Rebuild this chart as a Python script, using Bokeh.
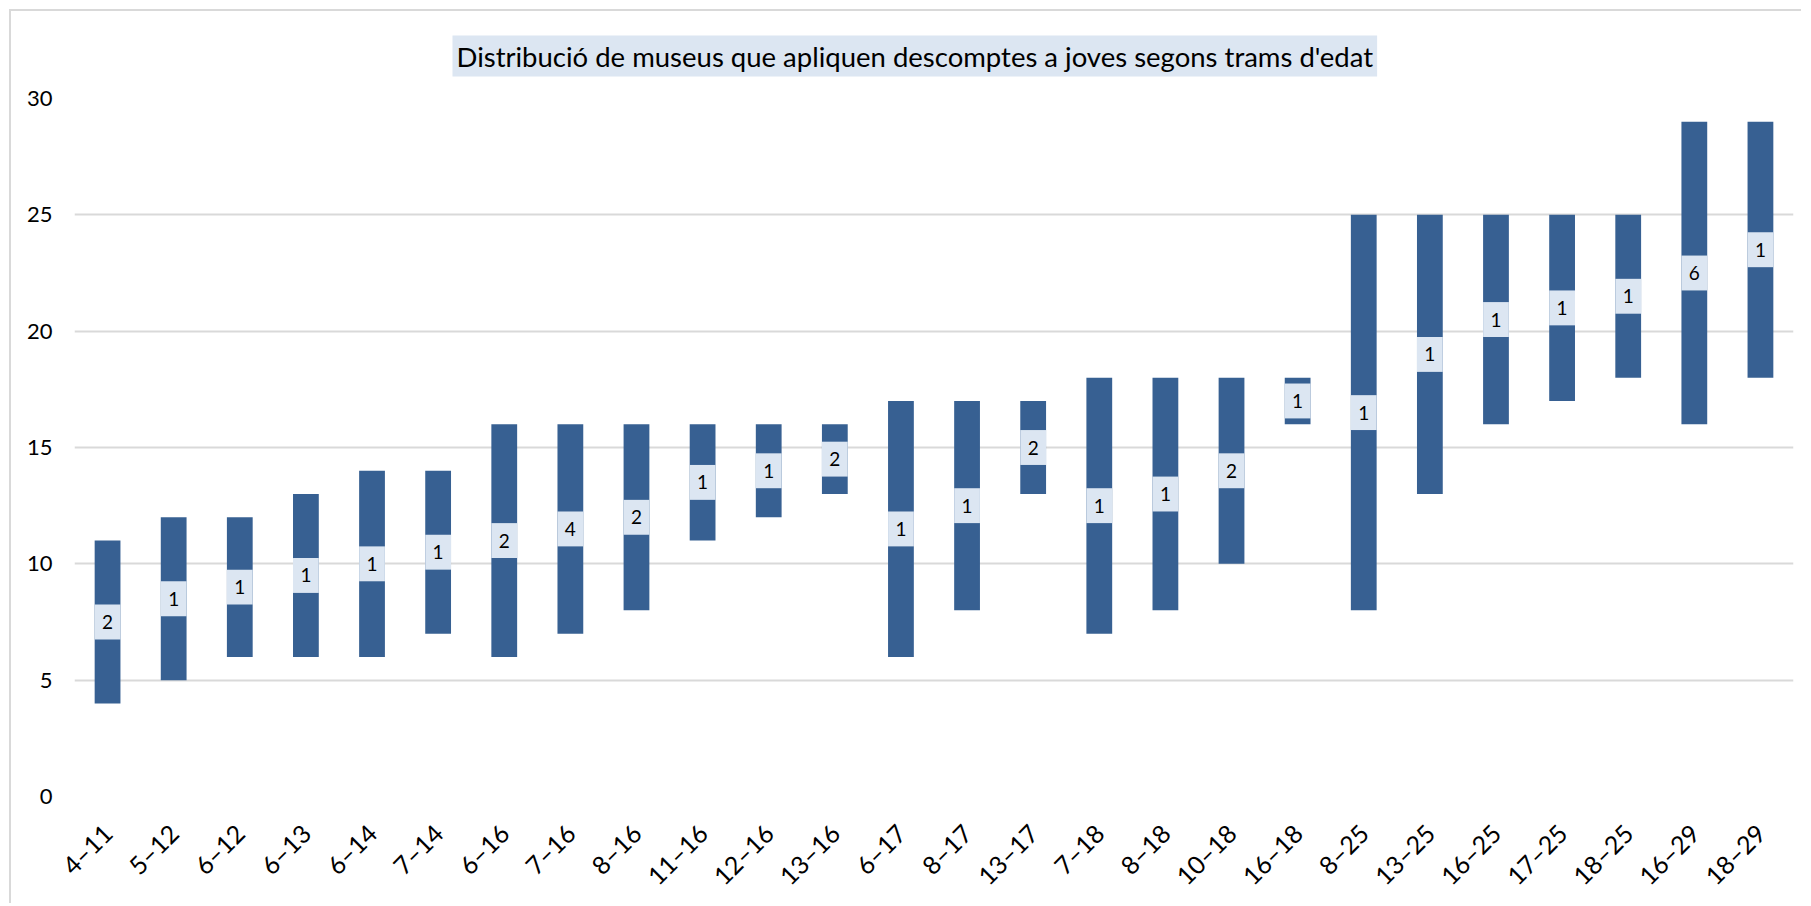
from bokeh.plotting import figure
from bokeh.models import FactorRange, Range1d, ColumnDataSource, FixedTicker
from bokeh.embed import file_html
from bokeh.resources import INLINE
from bokeh.core.properties import value
import math

# ---- data ----
categories = ["4–11", "5–12", "6–12", "6–13", "6–14", "7–14", "6–16", "7–16", "8–16",
              "11–16", "12–16", "13–16", "6–17", "8–17", "13–17", "7–18", "8–18", "10–18",
              "16–18", "8–25", "13–25", "16–25", "17–25", "18–25", "16–29", "18–29"]
age_min = [4, 5, 6, 6, 6, 7, 6, 7, 8, 11, 12, 13, 6, 8, 13, 7, 8, 10, 16, 8, 13, 16, 17, 18, 16, 18]
age_max = [11, 12, 12, 13, 14, 14, 16, 16, 16, 16, 16, 16, 17, 17, 17, 18, 18, 18, 18, 25, 25, 25, 25, 25, 29, 29]
museums = [2, 1, 1, 1, 1, 1, 2, 4, 2, 1, 1, 2, 1, 1, 2, 1, 1, 2, 1, 1, 1, 1, 1, 1, 6, 1]
y_ticks = [0, 5, 10, 15, 20, 25, 30]

title_text = "Distribució de museus que apliquen descomptes a joves segons trams d'edat"

BAR = "#376092"
LABEL_BG = "#DCE6F2"
GRID = "#D9D9D9"
FONT = "Lato"

mid = [(a + b) / 2 for a, b in zip(age_min, age_max)]
src = ColumnDataSource(dict(cat=categories, lo=age_min, hi=age_max, mid=mid,
                            n=[str(v) for v in museums]))

p = figure(width=1792, height=894, output_backend="svg", toolbar_location=None,
           x_range=FactorRange(factors=categories, range_padding=0),
           y_range=Range1d(0, 30))
p.min_border_left = 63
p.min_border_right = 10
p.min_border_top = 87
p.min_border_bottom = 109
p.outline_line_color = None
p.background_fill_color = "white"
p.border_fill_color = "white"
p.styles = {"margin-left": "9px", "margin-top": "9px",
            "border-left": "2px solid #D9D9D9", "border-top": "2px solid #D9D9D9"}

p.vbar(x="cat", bottom="lo", top="hi", width=0.39, source=src,
       fill_color=BAR, line_color=None)
p.rect(x="cat", y="mid", width=0.39, height=1.5, source=src,
       fill_color=LABEL_BG, line_color=None)
p.text(x="cat", y="mid", text="n", source=src, text_align="center",
       text_baseline="middle", text_font=value(FONT), text_font_size="19px",
       text_color="#000000")

# title
p.title.text = title_text
p.title.align = "left"
p.title.vertical_align = "bottom"
p.title.offset = 378
p.title.text_font = FONT
p.title.text_font_size = "27.5px"
p.title.text_font_style = "normal"
p.title.text_color = "#000000"
p.title.background_fill_color = LABEL_BG
p.title.padding = 4
p.title.standoff = 44

# axes
p.yaxis.ticker = FixedTicker(ticks=y_ticks)
p.yaxis.axis_line_color = None
p.yaxis.major_tick_line_color = None
p.yaxis.minor_tick_line_color = None
p.yaxis.major_tick_out = 0
p.yaxis.major_tick_in = 0
p.yaxis.major_label_standoff = 22
p.yaxis.major_label_text_font = FONT
p.yaxis.major_label_text_font_size = "22px"
p.yaxis.major_label_text_color = "#000000"

p.xaxis.axis_line_color = None
p.xaxis.major_tick_line_color = None
p.xaxis.major_tick_out = 0
p.xaxis.major_tick_in = 0
p.xaxis.major_label_orientation = math.pi / 4
p.xaxis.major_label_standoff = 32
p.xaxis.major_label_text_font = FONT
p.xaxis.major_label_text_font_size = "25px"
p.xaxis.major_label_text_color = "#000000"

p.xgrid.grid_line_color = None
p.ygrid.grid_line_color = GRID
p.ygrid.grid_line_width = 2
p.ygrid.ticker = FixedTicker(ticks=y_ticks)

open("out.html", "w").write(file_html(p, INLINE))
